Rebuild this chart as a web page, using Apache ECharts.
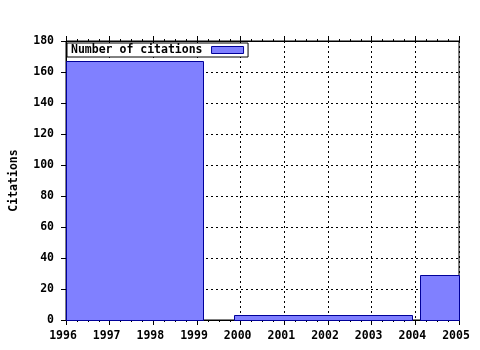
<!DOCTYPE html>
<html>
<head>
<meta charset="utf-8">
<script src="https://cdn.jsdelivr.net/npm/echarts@6/dist/echarts.min.js"></script>
<style>html,body{margin:0;padding:0;background:#fff}#c{width:480px;height:350px}</style>
</head>
<body>
<div id="c"></div>
<script>
// Data
var binStarts = [1996, 1999.85, 2004.1];
var binEnds = [1999.13, 2003.92, 2005];
var citations = [167, 3, 29];
var seriesName = 'Number of citations';
var yTitle = 'Citations';

var FONT = 'DejaVu Sans Mono';
var chart = echarts.init(document.getElementById('c'), null, {renderer: 'canvas'});
var data = binStarts.map(function (s, i) { return [s, binEnds[i], citations[i]]; });

chart.setOption({
  animation: false,
  backgroundColor: '#fff',
  grid: {left: 65, right: 21, top: 41, bottom: 30, show: true, borderColor: '#000', borderWidth: 1, backgroundColor: 'transparent'},
  legend: {
    left: 67, top: 43,
    align: 'right',
    icon: 'rect',
    itemWidth: 32, itemHeight: 7,
    padding: [0, 4, 0, 4],
    backgroundColor: '#fff', borderColor: '#000', borderWidth: 1, borderRadius: 0,
    textStyle: {fontFamily: FONT, fontWeight: 'bold', fontSize: 11.5, color: '#000', lineHeight: 14, padding: [0, 4, 0, 0]},
    data: [{name: seriesName, itemStyle: {color: '#8080ff', borderColor: '#000099', borderWidth: 1}}]
  },
  xAxis: [{
    type: 'value', position: 'bottom', min: 1996, max: 2005, interval: 1,
    axisLine: {show: true, lineStyle: {color: '#000', width: 1}},
    axisTick: {show: true, length: 5, lineStyle: {color: '#000'}},
    minorTick: {show: true, splitNumber: 4, length: 2, lineStyle: {color: '#000'}},
    splitLine: {show: true, lineStyle: {color: '#000', type: [2, 3], width: 1}},
    axisLabel: {fontFamily: FONT, fontWeight: 'bold', fontSize: 11.5, color: '#000', margin: 10, padding: [0, 6, 0, 0],
      formatter: function (v) { return String(v); }}
  }, {
    type: 'value', position: 'top', min: 1996, max: 2005, interval: 1,
    axisLine: {show: true, lineStyle: {color: '#000', width: 1}},
    axisTick: {show: true, length: 5, lineStyle: {color: '#000'}},
    minorTick: {show: true, splitNumber: 4, length: 2, lineStyle: {color: '#000'}},
    splitLine: {show: false},
    axisLabel: {show: false}
  }],
  yAxis: [{
    type: 'value', min: 0, max: 180, interval: 20,
    name: yTitle, nameLocation: 'middle', nameGap: 46, nameRotate: 90,
    nameTextStyle: {fontFamily: FONT, fontWeight: 'bold', fontSize: 11.5, color: '#000'},
    axisLine: {show: true, lineStyle: {color: '#000', width: 1}},
    axisTick: {show: true, length: 5, lineStyle: {color: '#000'}},
    splitLine: {show: true, lineStyle: {color: '#000', type: [2, 3], width: 1}},
    axisLabel: {fontFamily: FONT, fontWeight: 'bold', fontSize: 11.5, color: '#000', margin: 12}
  }],
  series: [{
    name: seriesName,
    type: 'custom',
    xAxisIndex: 0, yAxisIndex: 0,
    itemStyle: {color: '#8080ff', borderColor: '#000099', borderWidth: 1},
    encode: {x: [0, 1], y: 2},
    data: data,
    renderItem: function (params, api) {
      var p0 = api.coord([api.value(0), api.value(2)]);
      var p1 = api.coord([api.value(1), 0]);
      return {
        type: 'rect',
        shape: {x: Math.round(p0[0]) + 0.5, y: Math.round(p0[1]) + 0.5, width: Math.round(p1[0] - p0[0]), height: Math.round(p1[1] - p0[1])},
        style: {fill: '#8080ff', stroke: '#000099', lineWidth: 1}
      };
    }
  }]
});
</script>
</body>
</html>
